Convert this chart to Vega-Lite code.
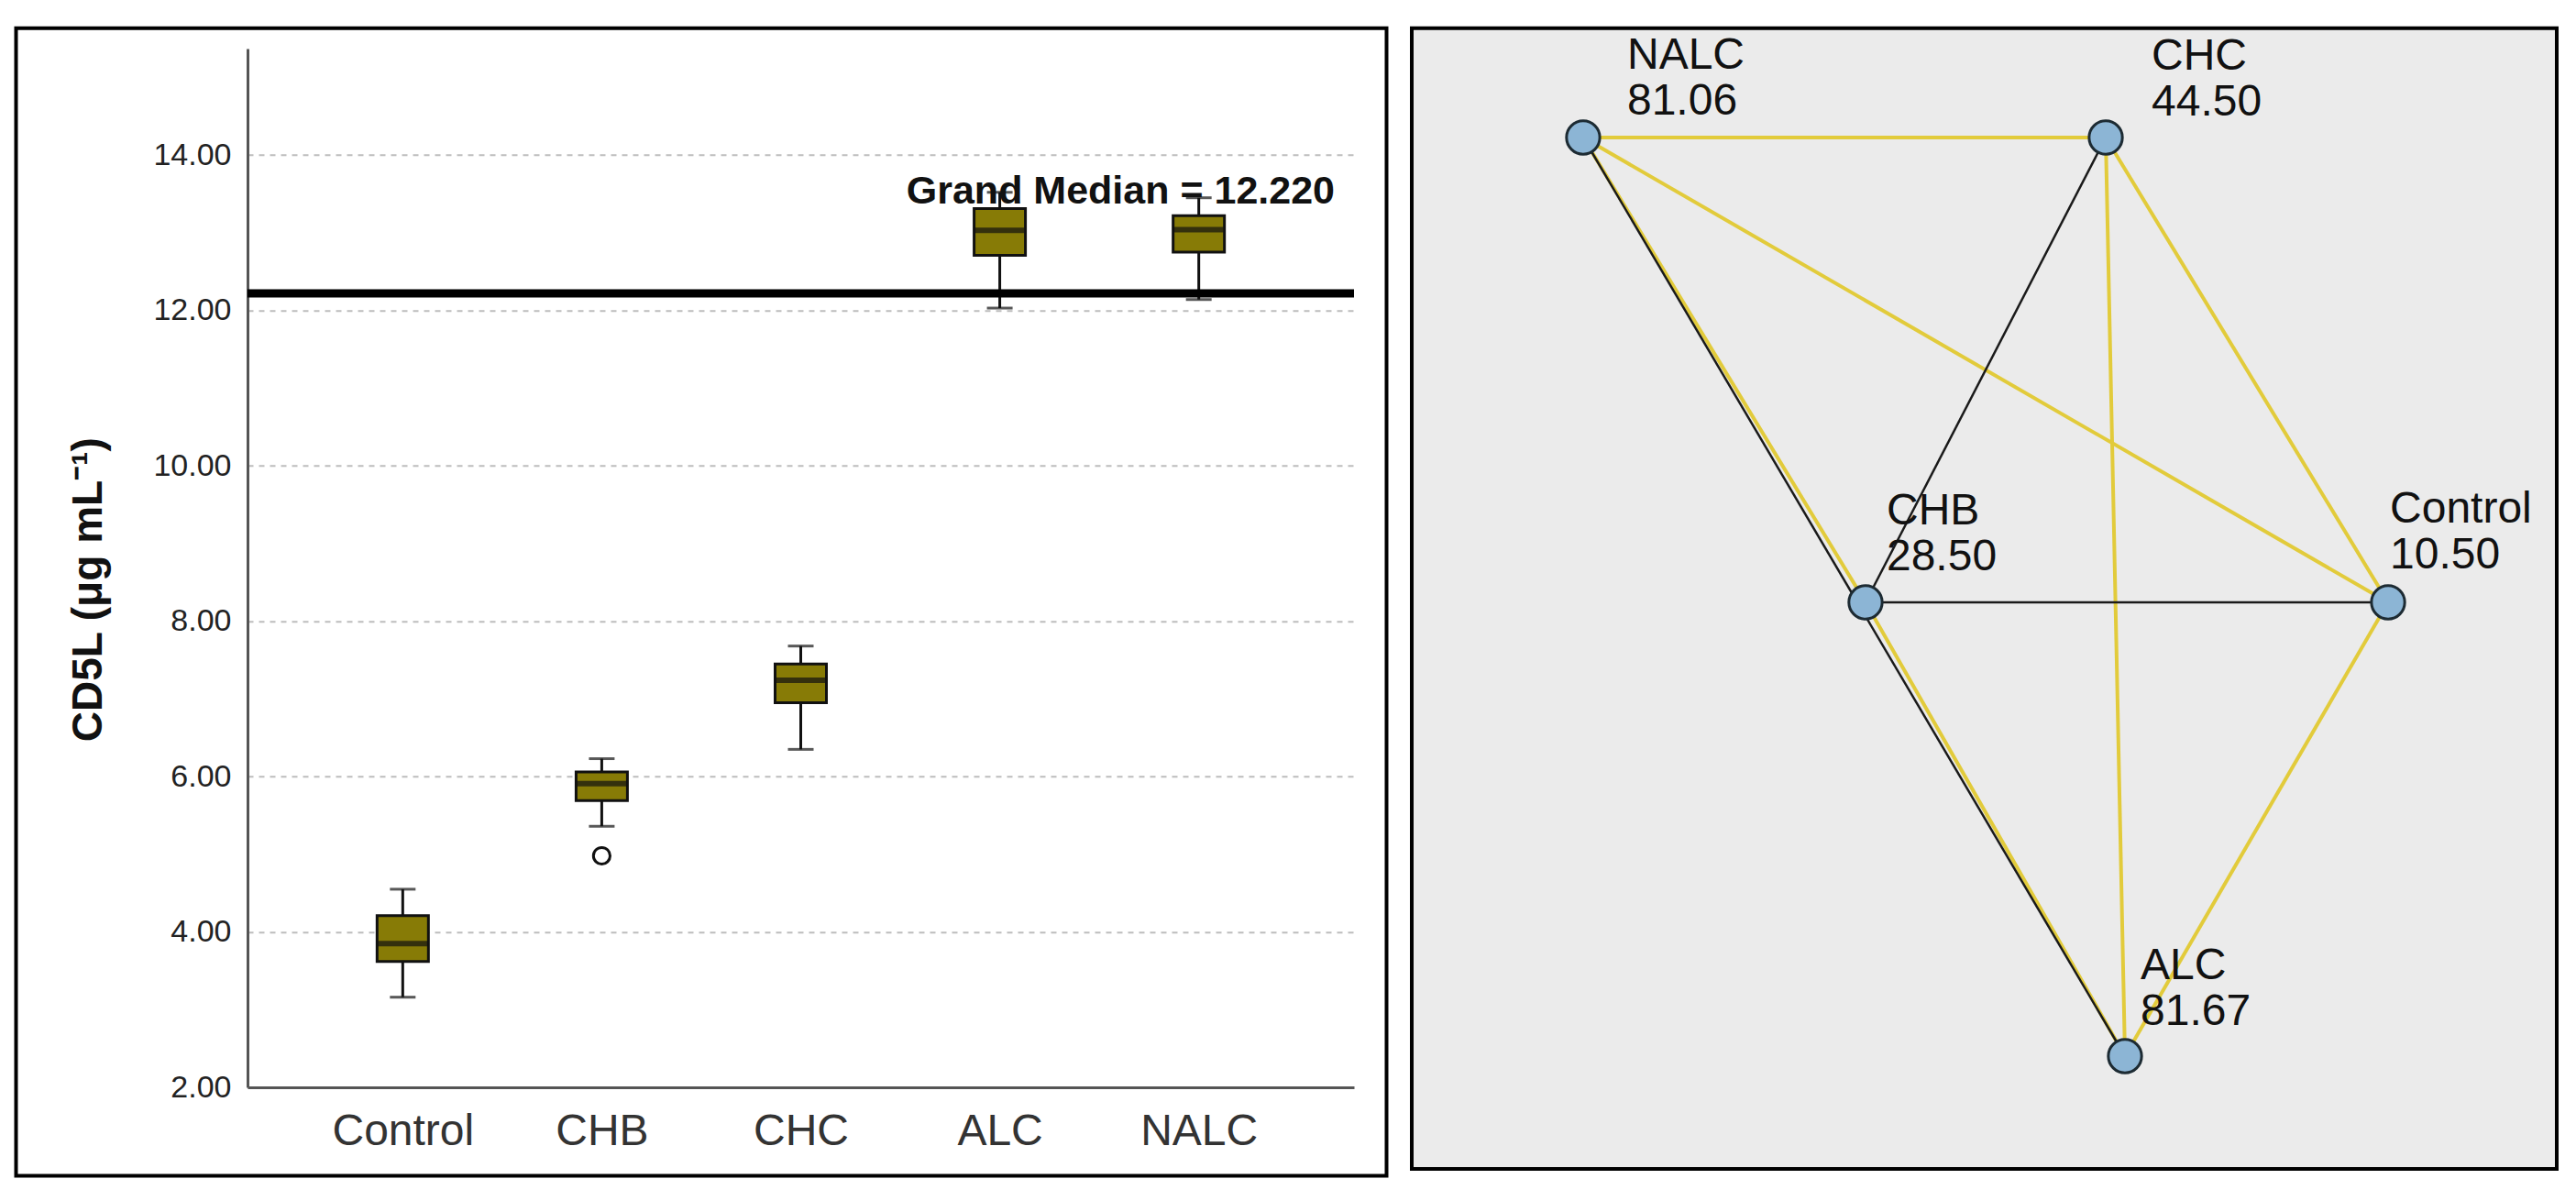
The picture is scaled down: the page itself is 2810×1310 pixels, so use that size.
{
  "$schema": "https://vega.github.io/schema/vega-lite/v6.json",
  "padding": {"left": 15.5, "top": 28.75, "right": 0, "bottom": 0},
  "background": "white",
  "spacing": 23.5,
  "datasets": {
    "boxes": [
      {"group": "Control", "lower": 3.16, "q1": 3.62, "median": 3.85, "q3": 4.21, "upper": 4.55},
      {"group": "CHB", "lower": 5.36, "q1": 5.69, "median": 5.91, "q3": 6.06, "upper": 6.23},
      {"group": "CHC", "lower": 6.35, "q1": 6.95, "median": 7.24, "q3": 7.45, "upper": 7.68},
      {"group": "ALC", "lower": 12.03, "q1": 12.71, "median": 13.03, "q3": 13.31, "upper": 13.52},
      {"group": "NALC", "lower": 12.14, "q1": 12.75, "median": 13.04, "q3": 13.22, "upper": 13.45}
    ],
    "outliers": [{"group": "CHB", "value": 4.98}],
    "grand": [{"grand_median": 12.22, "label": "Grand Median = 12.220"}],
    "nodes": [
      {"node": "NALC", "x": 14.97, "y": 90.0, "rank": 81.06},
      {"node": "CHC", "x": 60.61, "y": 90.0, "rank": 44.50},
      {"node": "CHB", "x": 39.63, "y": 49.44, "rank": 28.50},
      {"node": "Control", "x": 85.27, "y": 49.44, "rank": 10.50},
      {"node": "ALC", "x": 62.29, "y": 9.84, "rank": 81.67}
    ],
    "edges": [
      {"source": "NALC", "target": "CHC", "significant": true},
      {"source": "NALC", "target": "Control", "significant": true},
      {"source": "NALC", "target": "CHB", "significant": true},
      {"source": "NALC", "target": "ALC", "significant": false},
      {"source": "CHC", "target": "CHB", "significant": false},
      {"source": "CHC", "target": "Control", "significant": true},
      {"source": "CHC", "target": "ALC", "significant": true},
      {"source": "CHB", "target": "Control", "significant": false},
      {"source": "CHB", "target": "ALC", "significant": true},
      {"source": "Control", "target": "ALC", "significant": true}
    ]
  },
  "hconcat": [
    {
      "width": 1495,
      "height": 1251.75,
      "view": {"fill": "white", "stroke": "black", "strokeWidth": 4},
      "resolve": {"scale": {"x": "independent"}},
      "layer": [
        {
          "data": {"name": "boxes"},
          "encoding": {
            "x": {
              "field": "group", "type": "nominal",
              "sort": ["Control", "CHB", "CHC", "ALC", "NALC"],
              "scale": {"type": "point", "range": [252.5, 1459.5], "padding": 0.78},
              "axis": {"orient": "bottom", "offset": -96.5, "title": null, "labelAngle": 0, "labelFontSize": 48, "labelColor": "#333333", "labelPadding": 24, "ticks": false, "domainColor": "#555555", "domainWidth": 3, "grid": false}
            }
          },
          "layer": [
            {
              "mark": {"type": "rule", "color": "#111111", "strokeWidth": 3},
              "encoding": {
                "y": {
                  "field": "lower", "type": "quantitative",
                  "scale": {"domain": [2, 15.37], "range": [1155.25, 22.25], "nice": false, "zero": false},
                  "axis": {"values": [2, 4, 6, 8, 10, 12, 14], "format": ".2f", "offset": -252.5, "grid": true, "gridColor": "#bdbdbd", "gridDash": [6, 6], "gridWidth": 2, "domainColor": "#555555", "domainWidth": 3, "ticks": false, "labelFontSize": 34, "labelColor": "#222222", "labelPadding": 18, "title": "CD5L (μg mL⁻¹)", "titleFontSize": 46, "titleFontWeight": "bold", "titleColor": "#111111", "titlePadding": 46, "titleY": 612}
                },
                "y2": {"field": "upper"}
              }
            },
            {
              "mark": {"type": "tick", "color": "#111111", "size": 28, "thickness": 3},
              "encoding": {"y": {"field": "lower", "type": "quantitative", "scale": {"domain": [2, 15.37], "range": [1155.25, 22.25], "nice": false, "zero": false},
                "axis": {"values": [2, 4, 6, 8, 10, 12, 14], "format": ".2f", "offset": -252.5, "grid": true, "gridColor": "#bdbdbd", "gridDash": [6, 6], "gridWidth": 2, "domainColor": "#555555", "domainWidth": 3, "ticks": false, "labelFontSize": 34, "labelColor": "#222222", "labelPadding": 18, "title": "CD5L (μg mL⁻¹)", "titleFontSize": 46, "titleFontWeight": "bold", "titleColor": "#111111", "titlePadding": 46, "titleY": 612}}}
            },
            {
              "mark": {"type": "tick", "color": "#111111", "size": 28, "thickness": 3},
              "encoding": {"y": {"field": "upper", "type": "quantitative", "scale": {"domain": [2, 15.37], "range": [1155.25, 22.25], "nice": false, "zero": false},
                "axis": {"values": [2, 4, 6, 8, 10, 12, 14], "format": ".2f", "offset": -252.5, "grid": true, "gridColor": "#bdbdbd", "gridDash": [6, 6], "gridWidth": 2, "domainColor": "#555555", "domainWidth": 3, "ticks": false, "labelFontSize": 34, "labelColor": "#222222", "labelPadding": 18, "title": "CD5L (μg mL⁻¹)", "titleFontSize": 46, "titleFontWeight": "bold", "titleColor": "#111111", "titlePadding": 46, "titleY": 612}}}
            },
            {
              "mark": {"type": "bar", "size": 56, "fill": "#877b06", "stroke": "#111111", "strokeWidth": 3},
              "encoding": {
                "y": {"field": "q1", "type": "quantitative", "scale": {"domain": [2, 15.37], "range": [1155.25, 22.25], "nice": false, "zero": false},
                  "axis": {"values": [2, 4, 6, 8, 10, 12, 14], "format": ".2f", "offset": -252.5, "grid": true, "gridColor": "#bdbdbd", "gridDash": [6, 6], "gridWidth": 2, "domainColor": "#555555", "domainWidth": 3, "ticks": false, "labelFontSize": 34, "labelColor": "#222222", "labelPadding": 18, "title": "CD5L (μg mL⁻¹)", "titleFontSize": 46, "titleFontWeight": "bold", "titleColor": "#111111", "titlePadding": 46, "titleY": 612}},
                "y2": {"field": "q3"}
              }
            },
            {
              "mark": {"type": "tick", "color": "#111111", "size": 54, "thickness": 6},
              "encoding": {"y": {"field": "median", "type": "quantitative", "scale": {"domain": [2, 15.37], "range": [1155.25, 22.25], "nice": false, "zero": false},
                "axis": {"values": [2, 4, 6, 8, 10, 12, 14], "format": ".2f", "offset": -252.5, "grid": true, "gridColor": "#bdbdbd", "gridDash": [6, 6], "gridWidth": 2, "domainColor": "#555555", "domainWidth": 3, "ticks": false, "labelFontSize": 34, "labelColor": "#222222", "labelPadding": 18, "title": "CD5L (μg mL⁻¹)", "titleFontSize": 46, "titleFontWeight": "bold", "titleColor": "#111111", "titlePadding": 46, "titleY": 612}}}
            },
            {
              "data": {"name": "outliers"},
              "mark": {"type": "point", "shape": "circle", "filled": false, "size": 330, "stroke": "#111111", "strokeWidth": 3, "opacity": 1},
              "encoding": {"y": {"field": "value", "type": "quantitative", "scale": {"domain": [2, 15.37], "range": [1155.25, 22.25], "nice": false, "zero": false},
                "axis": {"values": [2, 4, 6, 8, 10, 12, 14], "format": ".2f", "offset": -252.5, "grid": true, "gridColor": "#bdbdbd", "gridDash": [6, 6], "gridWidth": 2, "domainColor": "#555555", "domainWidth": 3, "ticks": false, "labelFontSize": 34, "labelColor": "#222222", "labelPadding": 18, "title": "CD5L (μg mL⁻¹)", "titleFontSize": 46, "titleFontWeight": "bold", "titleColor": "#111111", "titlePadding": 46, "titleY": 612}}}
            }
          ]
        },
        {
          "data": {"name": "grand"},
          "layer": [
            {
              "mark": {"type": "rule", "color": "#000000", "strokeWidth": 9},
              "encoding": {
                "x": {"datum": 0, "type": "quantitative", "scale": {"domain": [0, 1], "range": [252.5, 1459.5], "nice": false}, "axis": null},
                "x2": {"datum": 1},
                "y": {"field": "grand_median", "type": "quantitative", "scale": {"domain": [2, 15.37], "range": [1155.25, 22.25], "nice": false, "zero": false},
                  "axis": {"values": [2, 4, 6, 8, 10, 12, 14], "format": ".2f", "offset": -252.5, "grid": true, "gridColor": "#bdbdbd", "gridDash": [6, 6], "gridWidth": 2, "domainColor": "#555555", "domainWidth": 3, "ticks": false, "labelFontSize": 34, "labelColor": "#222222", "labelPadding": 18, "title": "CD5L (μg mL⁻¹)", "titleFontSize": 46, "titleFontWeight": "bold", "titleColor": "#111111", "titlePadding": 46, "titleY": 612}}
              }
            },
            {
              "mark": {"type": "text", "align": "right", "baseline": "alphabetic", "dx": -21, "dy": -98, "fontSize": 43, "fontWeight": "bold", "font": "Liberation Sans Narrow, Liberation Sans", "color": "#111111"},
              "encoding": {
                "x": {"datum": 1, "type": "quantitative", "scale": {"domain": [0, 1], "range": [252.5, 1459.5], "nice": false}, "axis": null},
                "y": {"field": "grand_median", "type": "quantitative", "scale": {"domain": [2, 15.37], "range": [1155.25, 22.25], "nice": false, "zero": false},
                  "axis": {"values": [2, 4, 6, 8, 10, 12, 14], "format": ".2f", "offset": -252.5, "grid": true, "gridColor": "#bdbdbd", "gridDash": [6, 6], "gridWidth": 2, "domainColor": "#555555", "domainWidth": 3, "ticks": false, "labelFontSize": 34, "labelColor": "#222222", "labelPadding": 18, "title": "CD5L (μg mL⁻¹)", "titleFontSize": 46, "titleFontWeight": "bold", "titleColor": "#111111", "titlePadding": 46, "titleY": 612}},
                "text": {"field": "label"}
              }
            }
          ]
        }
      ]
    },
    {
      "width": 1249,
      "height": 1244.25,
      "view": {"fill": "#ebebeb", "stroke": "black", "strokeWidth": 4},
      "layer": [
        {
          "data": {"name": "edges"},
          "transform": [
            {"lookup": "source", "from": {"data": {"name": "nodes"}, "key": "node", "fields": ["x", "y"]}, "as": ["sx", "sy"]},
            {"lookup": "target", "from": {"data": {"name": "nodes"}, "key": "node", "fields": ["x", "y"]}, "as": ["tx", "ty"]},
            {"filter": "datum.significant"}
          ],
          "mark": {"type": "rule", "color": "#e2cb3b", "strokeWidth": 4},
          "encoding": {
            "x": {"field": "sx", "type": "quantitative", "scale": {"domain": [0, 100], "nice": false, "zero": false}, "axis": null},
            "y": {"field": "sy", "type": "quantitative", "scale": {"domain": [0, 99.54], "nice": false, "zero": false}, "axis": null},
            "x2": {"field": "tx"},
            "y2": {"field": "ty"}
          }
        },
        {
          "data": {"name": "edges"},
          "transform": [
            {"lookup": "source", "from": {"data": {"name": "nodes"}, "key": "node", "fields": ["x", "y"]}, "as": ["sx", "sy"]},
            {"lookup": "target", "from": {"data": {"name": "nodes"}, "key": "node", "fields": ["x", "y"]}, "as": ["tx", "ty"]},
            {"filter": "!datum.significant"}
          ],
          "mark": {"type": "rule", "color": "#1a1a1a", "strokeWidth": 2.5},
          "encoding": {
            "x": {"field": "sx", "type": "quantitative", "scale": {"domain": [0, 100], "nice": false, "zero": false}, "axis": null},
            "y": {"field": "sy", "type": "quantitative", "scale": {"domain": [0, 99.54], "nice": false, "zero": false}, "axis": null},
            "x2": {"field": "tx"},
            "y2": {"field": "ty"}
          }
        },
        {
          "data": {"name": "nodes"},
          "mark": {"type": "point", "shape": "circle", "filled": true, "size": 1320, "fill": "#8cb5d5", "stroke": "#1d2b33", "strokeWidth": 3, "opacity": 1},
          "encoding": {
            "x": {"field": "x", "type": "quantitative", "scale": {"domain": [0, 100], "nice": false, "zero": false}, "axis": null},
            "y": {"field": "y", "type": "quantitative", "scale": {"domain": [0, 99.54], "nice": false, "zero": false}, "axis": null}
          }
        },
        {
          "data": {"name": "nodes"},
          "mark": {
            "type": "text", "align": "left", "baseline": "alphabetic", "fontSize": 48, "color": "#111111",
            "dx": {"expr": "datum.node === 'NALC' ? 48 : datum.node === 'CHC' ? 50 : datum.node === 'CHB' ? 23 : datum.node === 'ALC' ? 17 : 2"},
            "dy": {"expr": "datum.node === 'NALC' ? -75 : datum.node === 'CHC' ? -74 : datum.node === 'CHB' ? -85 : datum.node === 'ALC' ? -84 : -87"}
          },
          "encoding": {
            "x": {"field": "x", "type": "quantitative", "scale": {"domain": [0, 100], "nice": false, "zero": false}, "axis": null},
            "y": {"field": "y", "type": "quantitative", "scale": {"domain": [0, 99.54], "nice": false, "zero": false}, "axis": null},
            "text": {"field": "node"}
          }
        },
        {
          "data": {"name": "nodes"},
          "mark": {
            "type": "text", "align": "left", "baseline": "alphabetic", "fontSize": 48, "color": "#111111",
            "dx": {"expr": "datum.node === 'NALC' ? 48 : datum.node === 'CHC' ? 50 : datum.node === 'CHB' ? 23 : datum.node === 'ALC' ? 17 : 2"},
            "dy": {"expr": "datum.node === 'NALC' ? -25 : datum.node === 'CHC' ? -24 : datum.node === 'CHB' ? -35 : datum.node === 'ALC' ? -34 : -37"}
          },
          "encoding": {
            "x": {"field": "x", "type": "quantitative", "scale": {"domain": [0, 100], "nice": false, "zero": false}, "axis": null},
            "y": {"field": "y", "type": "quantitative", "scale": {"domain": [0, 99.54], "nice": false, "zero": false}, "axis": null},
            "text": {"field": "rank", "format": ".2f"}
          }
        }
      ]
    }
  ],
  "config": {"font": "Liberation Sans", "view": {"stroke": null}}
}
